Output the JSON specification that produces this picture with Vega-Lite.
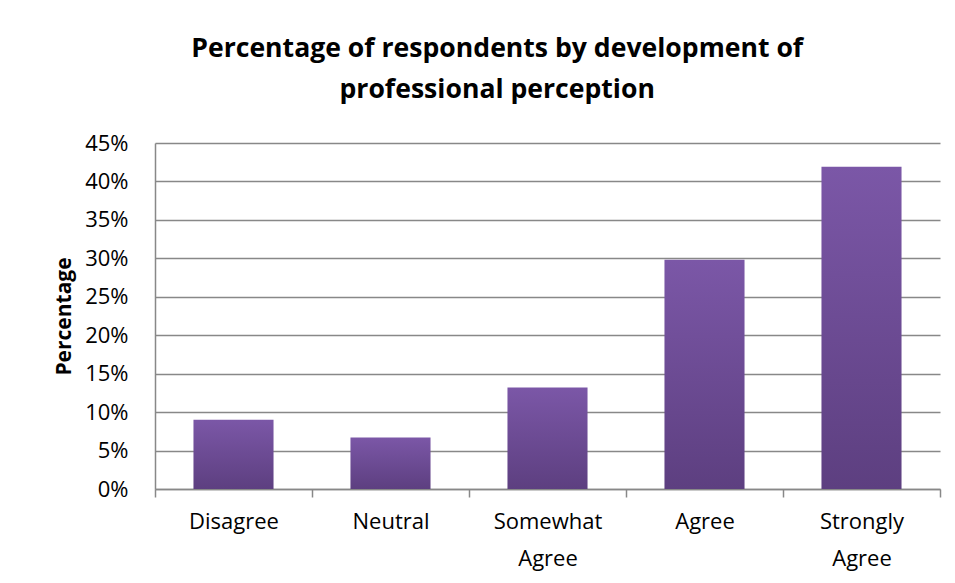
{
  "$schema": "https://vega.github.io/schema/vega-lite/v6.json",
  "autosize": "none",
  "width": 785,
  "height": 346,
  "padding": {"left": 155, "top": 143, "right": 15, "bottom": 94},
  "background": "white",
  "data": {
    "values": [
      {"category": "Disagree", "percentage": 0.09},
      {"category": "Neutral", "percentage": 0.067},
      {"category": "Somewhat Agree", "percentage": 0.132},
      {"category": "Agree", "percentage": 0.298},
      {"category": "Strongly Agree", "percentage": 0.419}
    ]
  },
  "title": {
    "text": ["Percentage of respondents by development of", "professional perception"],
    "font": "Open Sans",
    "fontSize": 26.6,
    "fontWeight": "bold",
    "color": "#000000",
    "anchor": "middle",
    "frame": "bounds",
    "lineHeight": 41,
    "offset": 28
  },
  "mark": {
    "type": "bar",
    "width": {"band": 0.51},
    "color": {
      "gradient": "linear",
      "x1": 0, "y1": 0, "x2": 0, "y2": 1,
      "stops": [
        {"offset": 0, "color": "#7b57a7"},
        {"offset": 1, "color": "#5d3f80"}
      ]
    }
  },
  "encoding": {
    "x": {
      "field": "category",
      "type": "nominal",
      "sort": null,
      "scale": {"paddingInner": 0, "paddingOuter": 0},
      "axis": {
        "title": null,
        "labelAngle": 0,
        "labelFont": "Open Sans",
        "labelFontSize": 22,
        "labelColor": "#000000",
        "labelExpr": "split(datum.label, ' ')",
        "labelLineHeight": 37,
        "labelPadding": 14,
        "labelBaseline": "top",
        "tickBand": "extent",
        "tickSize": 8,
        "tickColor": "#888888",
        "tickWidth": 1.5,
        "domainColor": "#888888",
        "domainWidth": 1.5,
        "grid": false
      }
    },
    "y": {
      "field": "percentage",
      "type": "quantitative",
      "scale": {"domain": [0, 0.45], "nice": false},
      "axis": {
        "title": "Percentage",
        "titleFont": "Open Sans",
        "titleFontSize": 21,
        "titleFontWeight": "bold",
        "titleColor": "#000000",
        "titlePadding": 10,
        "format": ".0%",
        "values": [0, 0.05, 0.1, 0.15, 0.2, 0.25, 0.3, 0.35, 0.4, 0.45],
        "labelFont": "Open Sans",
        "labelFontSize": 22,
        "labelColor": "#000000",
        "labelPadding": 27,
        "ticks": false,
        "domainColor": "#888888",
        "domainWidth": 1.5,
        "gridColor": "#888888",
        "gridWidth": 1.5
      }
    }
  },
  "config": {
    "view": {"stroke": null}
  }
}
